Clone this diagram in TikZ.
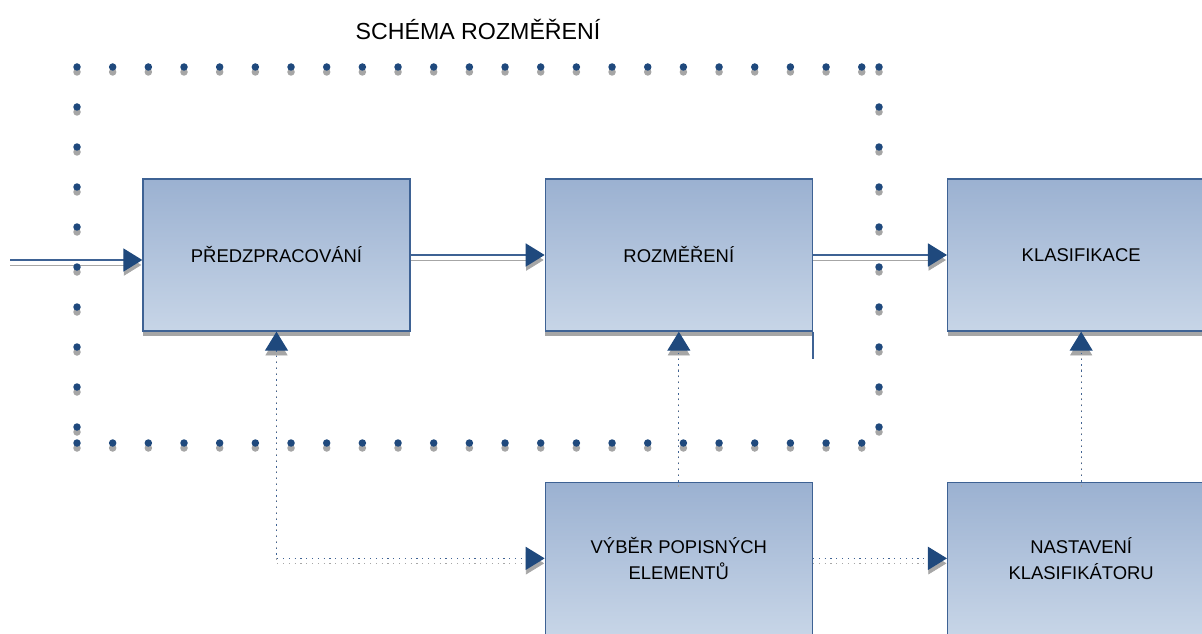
\documentclass[tikz,border=0pt]{standalone}
\usepackage{fontspec}
\setmainfont{Liberation Sans}
\usetikzlibrary{arrows.meta,positioning,shadows}

\definecolor{boxtop}{RGB}{155,177,209}
\definecolor{boxbot}{RGB}{199,213,231}
\definecolor{boxline}{RGB}{62,98,148}
\definecolor{tipblue}{RGB}{31,73,125}
\definecolor{shadowgray}{RGB}{166,166,166}

\begin{document}
\begin{tikzpicture}[
  x=0.02cm,y=0.02cm,
  node distance=3cm and 2.68cm,
  box/.style={draw=boxline,line width=0.8pt,top color=boxtop,bottom color=boxbot,
              minimum width=5.34cm,minimum height=3.04cm,align=center,
              font=\fontsize{10.5}{15}\selectfont,
              drop shadow={shadow xshift=0cm,shadow yshift=-0.1cm,fill=shadowgray,opacity=1}},
  flow/.style={draw=boxline,line width=1pt,
               -{Triangle[length=0.38cm,width=0.46cm,color=tipblue]},
               preaction={draw=shadowgray,-{Triangle[length=0.38cm,width=0.46cm]},
                          transform canvas={yshift=-0.1cm}}},
  feed/.style={draw=boxline,line width=0.7pt,dash pattern=on 0.7pt off 2.6pt,
               -{Triangle[length=0.38cm,width=0.46cm,color=tipblue]},
               preaction={draw=shadowgray,dash pattern=on 0.7pt off 2.6pt,
                          -{Triangle[length=0.38cm,width=0.46cm]},
                          transform canvas={yshift=-0.1cm}}},
  feedboth/.style={draw=boxline,line width=0.7pt,dash pattern=on 0.7pt off 2.6pt,
               {Triangle[length=0.38cm,width=0.46cm,color=tipblue]}-{Triangle[length=0.38cm,width=0.46cm,color=tipblue]},
               preaction={draw=shadowgray,dash pattern=on 0.7pt off 2.6pt,
                          {Triangle[length=0.38cm,width=0.46cm]}-{Triangle[length=0.38cm,width=0.46cm]},
                          transform canvas={yshift=-0.1cm}}},
  dotfill/.style={fill=tipblue},
  dotshade/.style={fill=shadowgray}
]
\useasboundingbox (0,0) rectangle (1202,633);
\clip (0,0) rectangle (1202,633);

\node[font=\fontsize{13.2}{16}\selectfont] (title) at (478,604) {SCHÉMA ROZMĚŘENÍ};

% main chain
\node[box] (pred) at (276.5,378) {PŘEDZPRACOVÁNÍ};
\node[box,right=of pred] (rozm) {ROZMĚŘENÍ};
\node[box,right=of rozm] (klas) {KLASIFIKACE};
\node[box,below=of rozm] (vyber) {VÝBĚR POPISNÝCH\\ELEMENTŮ};
\node[box,right=of vyber] (nast) {NASTAVENÍ\\KLASIFIKÁTORU};

\coordinate (src) at (10,373);
\draw[flow] (src) -- (src -| pred.west);
\draw[flow] (pred) -- (rozm);
\draw[flow] (rozm) -- (klas);
\draw[feedboth] (pred.south) |- (vyber.west);
\draw[feed] (vyber.north) -- (rozm.south);
\draw[feed] (vyber) -- (nast);
\draw[feed] (nast.north) -- (klas.south);
\draw[boxline,line width=0.8pt] (rozm.south east) -- ++(0,-27);

% dotted frame
\foreach \k in {0,...,22} {
  \foreach \y in {566,190} {
    \fill[dotshade] (77+35.67*\k,\y-5) circle (0.075cm);
    \fill[dotfill] (77+35.67*\k,\y) circle (0.075cm);
  }
}
\foreach \k in {1,...,9} {
  \fill[dotshade] (77,561-40*\k) circle (0.075cm);
  \fill[dotfill] (77,566-40*\k) circle (0.075cm);
}
\foreach \k in {0,...,9} {
  \fill[dotshade] (879,561-40*\k) circle (0.075cm);
  \fill[dotfill] (879,566-40*\k) circle (0.075cm);
}
\end{tikzpicture}
\end{document}
